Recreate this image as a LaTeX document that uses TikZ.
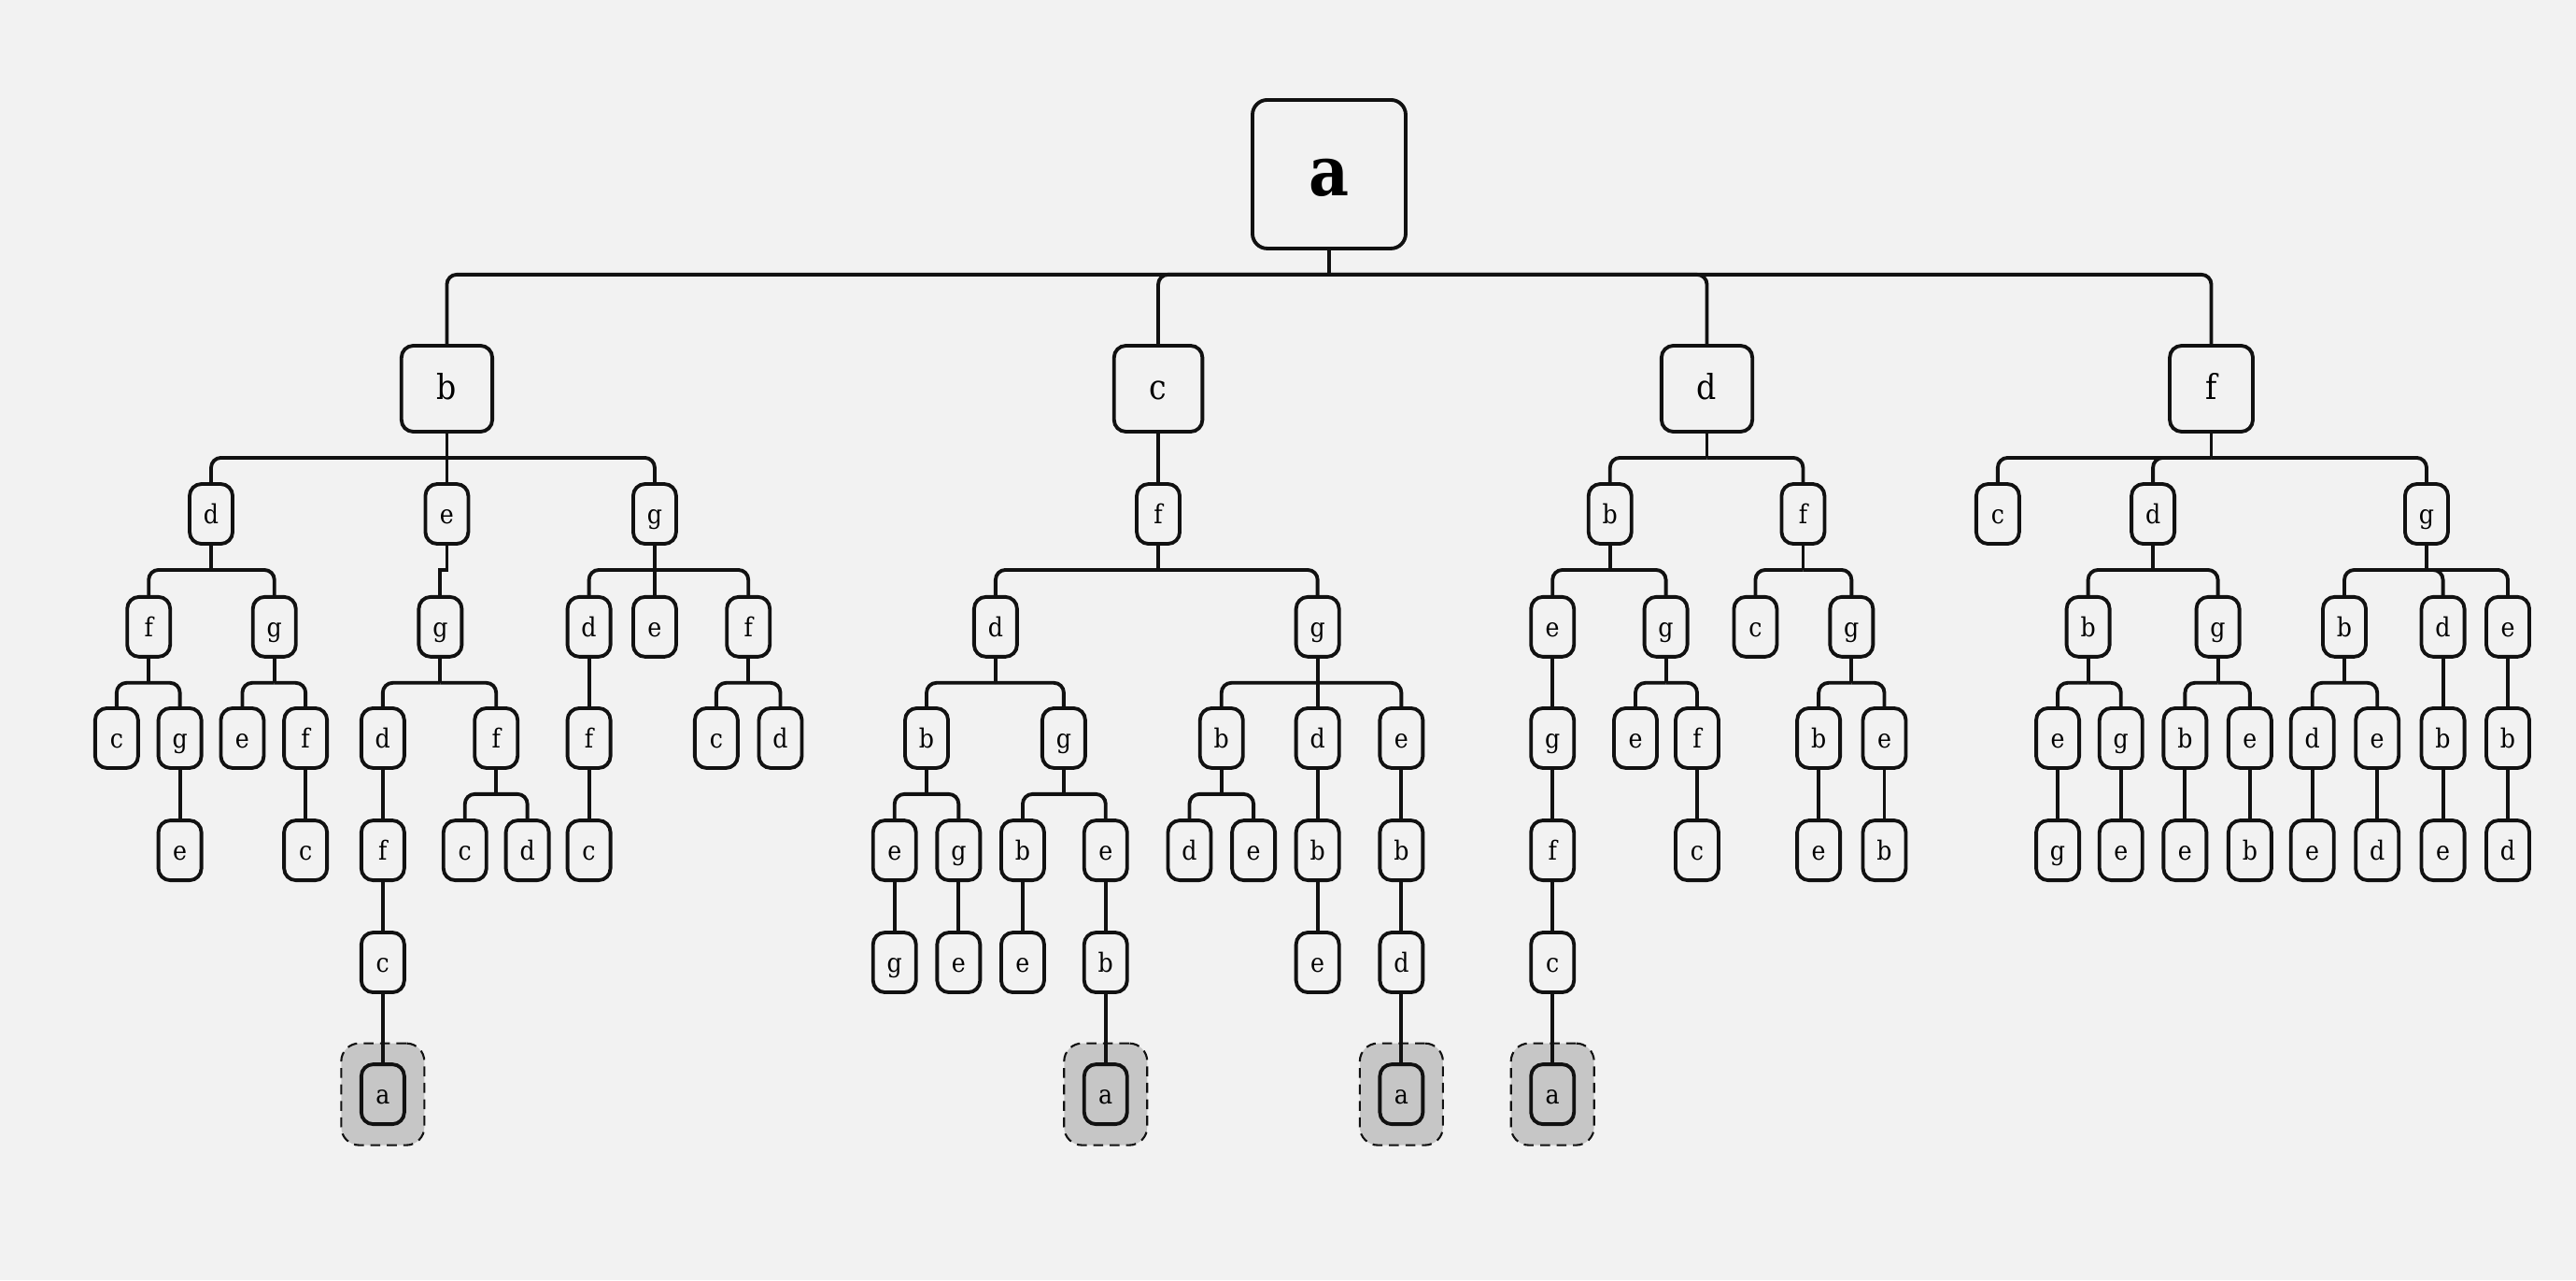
\documentclass[tikz,border=0pt]{standalone}
\usepackage{fontspec}
\setmainfont{DejaVu Serif}[FakeStretch=0.9]

\definecolor{paper}{HTML}{F2F2F2}
\definecolor{halogray}{HTML}{C6C6C6}
\definecolor{ink}{HTML}{111111}

\tikzset{
  cell/.style={draw=ink, line width=1.1pt, rounded corners=3.6pt, inner sep=0pt,
    minimum width=0.46cm, minimum height=0.64cm,
    font=\fontsize{8}{9}\selectfont, text height=6pt, text depth=0pt},
  headcell/.style={cell, minimum width=0.89cm, minimum height=0.92cm, inner xsep=0.38cm,
    font=\fontsize{10.5}{12}\selectfont, text height=6.4pt},
  rootcell/.style={cell, minimum width=1.64cm, minimum height=1.59cm, rounded corners=4.5pt,
    font=\bfseries\fontsize{21}{24}\selectfont, text height=13pt},
  halo/.style={draw=ink, fill=halogray, line width=0.6pt, dash pattern=on 3pt off 2pt,
    rounded corners=5.5pt, minimum width=0.89cm, minimum height=1.09cm},
  link/.style={draw=ink, line width=1.1pt}
}

\begin{document}
\begin{tikzpicture}[x=0.17589mm, y=-0.17589mm]

\fill[paper] (0,0) rectangle (1568,779);

% marked leaves
\node[halo] (h1) at (233,665.8) {};
\node[halo] (h2) at (673,665.8) {};
\node[halo] (h3) at (853,665.8) {};
\node[halo] (h4) at (945,665.8) {};

% root and first level
\node[rootcell] (a) at (809,106) {a};
\node[headcell] (b) at (272,236.5) {b};
\node[headcell] (c) at (705,236.5) {c};
\node[headcell] (d) at (1039,236.5) {d};
\node[headcell] (f) at (1346,236.5) {f};

% level 2
\node[cell] (bd) at (128.5,312.7) {d};
\node[cell] (be) at (272,312.7) {e};
\node[cell] (bg) at (398.5,312.7) {g};
\node[cell] (cf) at (705,312.7) {f};
\node[cell] (db) at (980,312.7) {b};
\node[cell] (df) at (1097.5,312.7) {f};
\node[cell] (fc) at (1216,312.7) {c};
\node[cell] (fd) at (1310.5,312.7) {d};
\node[cell] (fg) at (1477,312.7) {g};

% level 3
\node[cell] (bdf) at (90.5,381.4) {f};
\node[cell] (bdg) at (167,381.4) {g};
\node[cell] (beg) at (268,381.4) {g};
\node[cell] (bgd) at (358.5,381.4) {d};
\node[cell] (bge) at (398.5,381.4) {e};
\node[cell] (bgf) at (455.5,381.4) {f};
\node[cell] (cfd) at (606,381.4) {d};
\node[cell] (cfg) at (802,381.4) {g};
\node[cell] (dbe) at (945,381.4) {e};
\node[cell] (dbg) at (1014,381.4) {g};
\node[cell] (dfc) at (1068.5,381.4) {c};
\node[cell] (dfg) at (1127,381.4) {g};
\node[cell] (fdb) at (1271,381.4) {b};
\node[cell] (fdg) at (1350,381.4) {g};
\node[cell] (fgb) at (1427,381.4) {b};
\node[cell] (fgd) at (1487,381.4) {d};
\node[cell] (fge) at (1526.5,381.4) {e};

% level 4
\node[cell] (bdfc) at (71,449.1) {c};
\node[cell] (bdfg) at (109.5,449.1) {g};
\node[cell] (bdge) at (147.5,449.1) {e};
\node[cell] (bdgf) at (186,449.1) {f};
\node[cell] (begd) at (233,449.1) {d};
\node[cell] (begf) at (302,449.1) {f};
\node[cell] (bgdf) at (358.5,449.1) {f};
\node[cell] (bgfc) at (436,449.1) {c};
\node[cell] (bgfd) at (475,449.1) {d};
\node[cell] (cfdb) at (564,449.1) {b};
\node[cell] (cfdg) at (647.5,449.1) {g};
\node[cell] (cfgb) at (743.5,449.1) {b};
\node[cell] (cfgd) at (802,449.1) {d};
\node[cell] (cfge) at (853,449.1) {e};
\node[cell] (dbeg) at (945,449.1) {g};
\node[cell] (dbge) at (995.5,449.1) {e};
\node[cell] (dbgf) at (1033,449.1) {f};
\node[cell] (dfgb) at (1107,449.1) {b};
\node[cell] (dfge) at (1147,449.1) {e};
\node[cell] (fdbe) at (1252.5,449.1) {e};
\node[cell] (fdbg) at (1291,449.1) {g};
\node[cell] (fdgb) at (1330,449.1) {b};
\node[cell] (fdge) at (1369.5,449.1) {e};
\node[cell] (fgbd) at (1407.5,449.1) {d};
\node[cell] (fgbe) at (1447,449.1) {e};
\node[cell] (fgdb) at (1487,449.1) {b};
\node[cell] (fgeb) at (1526.5,449.1) {b};

% level 5
\node[cell] (bdfge) at (109.5,517.4) {e};
\node[cell] (bdgfc) at (186,517.4) {c};
\node[cell] (begdf) at (233,517.4) {f};
\node[cell] (begfc) at (283,517.4) {c};
\node[cell] (begfd) at (321,517.4) {d};
\node[cell] (bgdfc) at (358.5,517.4) {c};
\node[cell] (cfdbe) at (544.5,517.4) {e};
\node[cell] (cfdbg) at (583.5,517.4) {g};
\node[cell] (cfdgb) at (622.5,517.4) {b};
\node[cell] (cfdge) at (673,517.4) {e};
\node[cell] (cfgbd) at (724,517.4) {d};
\node[cell] (cfgbe) at (763,517.4) {e};
\node[cell] (cfgdb) at (802,517.4) {b};
\node[cell] (cfgeb) at (853,517.4) {b};
\node[cell] (dbegf) at (945,517.4) {f};
\node[cell] (dbgfc) at (1033,517.4) {c};
\node[cell] (dfgbe) at (1107,517.4) {e};
\node[cell] (dfgeb) at (1147,517.4) {b};
\node[cell] (fdbeg) at (1252.5,517.4) {g};
\node[cell] (fdbge) at (1291,517.4) {e};
\node[cell] (fdgbe) at (1330,517.4) {e};
\node[cell] (fdgeb) at (1369.5,517.4) {b};
\node[cell] (fgbde) at (1407.5,517.4) {e};
\node[cell] (fgbed) at (1447,517.4) {d};
\node[cell] (fgdbe) at (1487,517.4) {e};
\node[cell] (fgebd) at (1526.5,517.4) {d};

% level 6
\node[cell] (begdfc) at (233,585.6) {c};
\node[cell] (cfdbeg) at (544.5,585.6) {g};
\node[cell] (cfdbge) at (583.5,585.6) {e};
\node[cell] (cfdgbe) at (622.5,585.6) {e};
\node[cell] (cfdgeb) at (673,585.6) {b};
\node[cell] (cfgdbe) at (802,585.6) {e};
\node[cell] (cfgebd) at (853,585.6) {d};
\node[cell] (dbegfc) at (945,585.6) {c};

% level 7
\node[cell] (begdfca) at (233,665.8) {a};
\node[cell] (cfdgeba) at (673,665.8) {a};
\node[cell] (cfgebda) at (853,665.8) {a};
\node[cell] (dbegfca) at (945,665.8) {a};

% connectors: stub down to the bar, then along it and down into the child
\foreach \p/\c in {a/b, a/c, a/d, a/f,
    b/bd, b/be, b/bg, bd/bdf, bd/bdg, bdf/bdfc, bdf/bdfg, bdfg/bdfge,
    bdg/bdge, bdg/bdgf, bdgf/bdgfc, beg/begd, beg/begf,
    begd/begdf, begdf/begdfc, begdfc/begdfca, begf/begfc, begf/begfd,
    bg/bgd, bg/bge, bg/bgf, bgd/bgdf, bgdf/bgdfc, bgf/bgfc, bgf/bgfd,
    c/cf, cf/cfd, cf/cfg, cfd/cfdb, cfd/cfdg, cfdb/cfdbe, cfdb/cfdbg,
    cfdbe/cfdbeg, cfdbg/cfdbge, cfdg/cfdgb, cfdg/cfdge, cfdgb/cfdgbe,
    cfdge/cfdgeb, cfdgeb/cfdgeba, cfg/cfgb, cfg/cfgd, cfg/cfge,
    cfgb/cfgbd, cfgb/cfgbe, cfgd/cfgdb, cfgdb/cfgdbe, cfge/cfgeb,
    cfgeb/cfgebd, cfgebd/cfgebda,
    d/db, d/df, db/dbe, db/dbg, dbe/dbeg, dbeg/dbegf, dbegf/dbegfc,
    dbegfc/dbegfca, dbg/dbge, dbg/dbgf, dbgf/dbgfc, df/dfc, df/dfg,
    dfg/dfgb, dfg/dfge, dfgb/dfgbe, dfge/dfgeb,
    f/fc, f/fd, f/fg, fd/fdb, fd/fdg, fdb/fdbe, fdb/fdbg, fdbe/fdbeg,
    fdbg/fdbge, fdg/fdgb, fdg/fdge, fdgb/fdgbe, fdge/fdgeb,
    fg/fgb, fg/fgd, fg/fge, fgb/fgbd, fgb/fgbe, fgbd/fgbde, fgbe/fgbed,
    fgd/fgdb, fgdb/fgdbe, fge/fgeb, fgeb/fgebd}{
  \draw[link] (\p.south) -- ++(0,-0.26cm);
  \draw[link, rounded corners=3pt] ([yshift=-0.26cm]\p.south) -| (\c.north);
}
\draw[link] (be.south) -- ++(0,-0.26cm) -| (beg.north);

\end{tikzpicture}
\end{document}
